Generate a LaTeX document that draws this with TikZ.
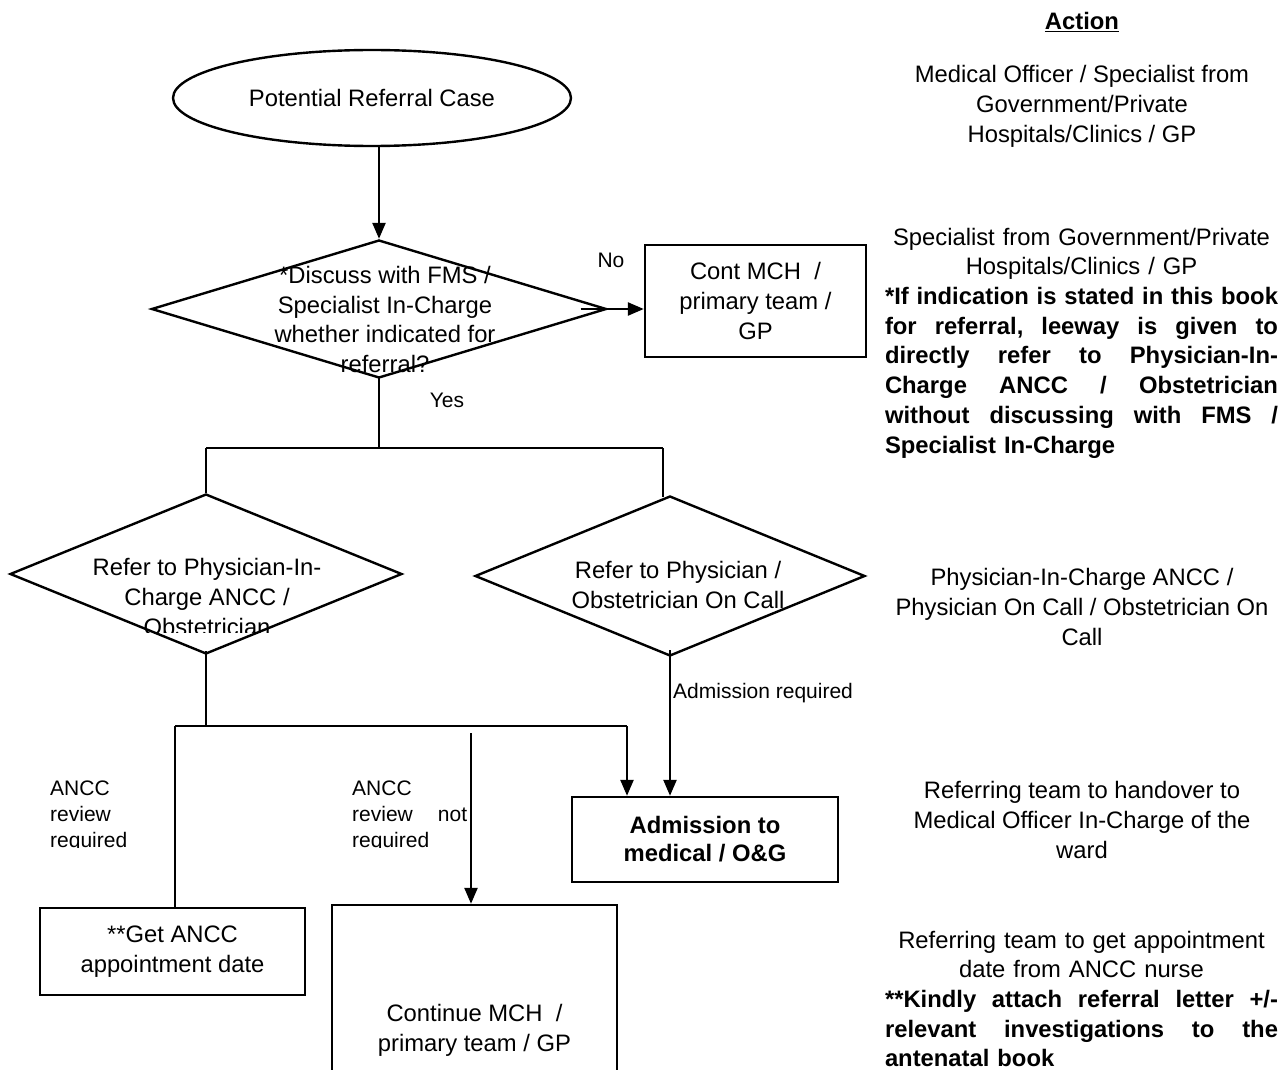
\documentclass[tikz,border=0pt]{standalone}
\usepackage{fontspec}
\setmainfont{Liberation Sans}
\usetikzlibrary{shapes.geometric,arrows.meta}
\newcommand\jl[1]{\leavevmode\hbox to \linewidth{#1}}
\newcommand\cl[1]{\leavevmode\hbox to \linewidth{\hfil#1\hfil}}
\begin{document}
\begin{tikzpicture}[x=1pt,y=-1pt,
  txt/.style={inner sep=0pt,font=\fontsize{23.8}{29.7}\selectfont,align=center},
  lbl/.style={inner sep=0pt,font=\fontsize{21}{26}\selectfont,align=left},
  boxn/.style={draw,line width=2.4pt,inner sep=0pt,align=center,font=\fontsize{23.8}{29.7}\selectfont},
  dia/.style={draw,diamond,line width=2.4pt,inner sep=0pt},
  thickln/.style={line width=2.4pt},
  thinln/.style={line width=1.1pt},
  arr/.style={line width=2.4pt,-{Triangle[length=16pt,width=13pt]}}]
\useasboundingbox (0,0) rectangle (1280,1070);

% ---- right column (Action) ----
\node[txt,font=\fontsize{23.8}{29.7}\selectfont\bfseries] (act) at (1082,22) {\underline{Action}};
\node[txt] (a1) at (1082,106.5) {Medical Officer / Specialist from\\Government/Private\\Hospitals/Clinics / GP};
\node[txt,text width=393pt,align=left] (a2) at (1081.5,343) {%
\cl{Specialist from Government/Private}\\
\cl{Hospitals/Clinics / GP}\\
\jl{\bfseries *If\hfill indication\hfill is\hfill stated\hfill in\hfill this\hfill book}\\
\jl{\bfseries for\hfill referral,\hfill leeway\hfill is\hfill given\hfill to}\\
\jl{\bfseries directly\hfill refer\hfill to\hfill Physician-In-}\\
\jl{\bfseries Charge\hfill ANCC\hfill /\hfill Obstetrician}\\
\jl{\bfseries without\hfill discussing\hfill with\hfill FMS\hfill /}\\
{\bfseries Specialist In-Charge}};
\node[txt] (a3) at (1082,607) {Physician-In-Charge ANCC /\\Physician On Call / Obstetrician On\\Call};
\node[txt] (a4) at (1082,820) {Referring team to handover to\\Medical Officer In-Charge of the\\ward};
\node[txt,text width=393pt,align=left] (a5) at (1081.5,999) {%
\cl{Referring team to get appointment}\\
\cl{date from ANCC nurse}\\
\jl{\bfseries **Kindly\hfill attach\hfill referral\hfill letter\hfill +/-}\\
\jl{\bfseries relevant\hfill investigations\hfill to\hfill the}\\
{\bfseries antenatal book}};

% ---- flowchart ----
\node[draw,ellipse,line width=2.4pt,minimum width=398pt,minimum height=96pt,inner sep=0pt,
  font=\fontsize{23.8}{29.7}\selectfont] (ell) at (372,98) {Potential Referral Case};

\node[dia,minimum width=455pt,minimum height=138pt] (d1) at (379,309) {};
\node[txt] (t1) at (385,319.5) {*Discuss with FMS /\\Specialist In-Charge\\whether indicated for\\referral?};

\node[boxn,minimum width=221pt,minimum height=112pt] (c1) at (755.5,301) {Cont MCH\ \ /\\primary team /\\GP};

\node[lbl] (no) at (611,260) {No};
\node[lbl] (yes) at (447,400) {Yes};

\node[dia,minimum width=392pt,minimum height=160pt] (d2) at (206,574) {};
\begin{scope}
  \clip (0,520) rectangle (420,632);
  \node[txt] (t2) at (207,597) {Refer to Physician-In-\\Charge ANCC /\\Obstetrician};
\end{scope}

\node[dia,minimum width=390pt,minimum height=160pt] (d3) at (670,576) {};
\node[txt] (t3) at (678,585) {Refer to Physician /\\Obstetrician On Call};

\node[boxn,minimum width=266pt,minimum height=85pt,font=\fontsize{23.8}{28}\selectfont\bfseries] (adm) at (705,839.5) {Admission to\\medical / O\&G};
\node[boxn,minimum width=265pt,minimum height=87pt] (get) at (172.5,951.5) {**Get ANCC\\appointment date};
\node[boxn,minimum width=285pt,minimum height=250pt] (cont) at (474.5,1030) {Continue MCH\ \ /\\primary team / GP};

\node[lbl,anchor=west] (adml) at (673,693) {Admission required};
\begin{scope}
  \clip (0,760) rectangle (620,847);
  \node[lbl,anchor=west] (l1) at (50,816) {ANCC\\review\\required};
  \node[lbl,anchor=west,text width=115pt] (l2) at (352,816) {ANCC\\\jl{review\hfil not}\\required};
\end{scope}

% junction coordinates
\coordinate (j1) at (379,448);
\coordinate (j2) at (206,448);
\coordinate (j3) at (663,448);
\coordinate (k1) at (206,726);
\coordinate (k2) at (175,726);
\coordinate (k3) at (627,726);
\coordinate (m1) at (471,733);

% connectors
\draw[arr] (ell.south -| d1.north) -- (d1.north);
\draw[arr] ([xshift=-27pt]d1.east) -- (c1.west |- d1.east);
\draw[thinln] ([yshift=2pt]d1.south) -- (j1);
\draw[thinln] (j2) -- (j3);
\draw[thinln] (j2) -- (d2.north);
\draw[thinln] (j3) -- ([yshift=-2pt]j3 |- d3.north);
\draw[thinln] ([yshift=4pt]d2.south) -- (k1);
\draw[thinln] (k2) -- (k3);
\draw[thickln] (k2) -- (k2 |- get.north);
\draw[arr] (k3) -- (k3 |- adm.north);
\draw[arr] (m1) -- (m1 |- cont.north);
\draw[arr] ([yshift=7pt]d3.south) -- (d3.south |- adm.north);
\end{tikzpicture}
\end{document}
